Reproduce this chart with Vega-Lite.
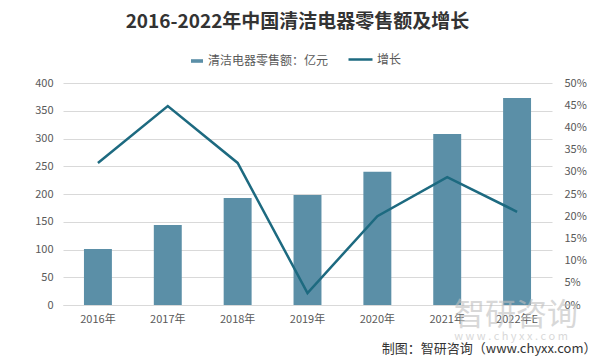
{
  "$schema": "https://vega.github.io/schema/vega-lite/v6.json",
  "width": 489,
  "height": 222,
  "autosize": "none",
  "padding": {"left": 63, "top": 83, "right": 48, "bottom": 55},
  "background": "white",
  "config": {
    "font": "Noto Sans CJK SC",
    "view": {"stroke": null},
    "axis": {"labelFont": "Noto Sans CJK SC", "labelColor": "#595959", "labelFontSize": 11}
  },
  "title": {
    "text": "2016-2022年中国清洁电器零售额及增长",
    "fontSize": 19,
    "fontWeight": "bold",
    "color": "#333333",
    "anchor": "middle",
    "frame": "group",
    "offset": 14,
    "dx": -10
  },
  "data": {
    "values": [
      {"year": "2016年", "sales": 101, "growth": 0.32},
      {"year": "2017年", "sales": 144, "growth": 0.448},
      {"year": "2018年", "sales": 193, "growth": 0.32},
      {"year": "2019年", "sales": 198, "growth": 0.027},
      {"year": "2020年", "sales": 240, "growth": 0.2},
      {"year": "2021年", "sales": 308, "growth": 0.288},
      {"year": "2022年E", "sales": 373, "growth": 0.21}
    ]
  },
  "encoding": {
    "x": {
      "field": "year",
      "type": "nominal",
      "sort": null,
      "scale": {"paddingInner": 0.6, "paddingOuter": 0.3},
      "axis": {
        "labelAngle": 0,
        "ticks": false,
        "domainColor": "#d9d9d9",
        "labelPadding": 8,
        "title": "制图：智研咨询（www.chyxx.com）",
        "titleFontSize": 13,
        "titleFontWeight": "normal",
        "titleColor": "#333333",
        "titleAnchor": "end",
        "titleAlign": "right",
        "titleX": 533,
        "titleY": 43,
        "titleBaseline": "middle"
      }
    }
  },
  "layer": [
    {
      "mark": {"type": "bar", "color": "#5b8fa7"},
      "encoding": {
        "y": {
          "field": "sales",
          "type": "quantitative",
          "scale": {"domain": [0, 400]},
          "axis": {
            "title": null,
            "values": [0, 50, 100, 150, 200, 250, 300, 350, 400],
            "domain": false,
            "ticks": false,
            "gridColor": "#d9d9d9",
            "labelPadding": 10
          }
        },
        "color": {
          "datum": "清洁电器零售额：亿元",
          "type": "nominal",
          "scale": {"range": ["#5b8fa7"]},
          "legend": {
            "title": null,
            "orient": "none",
            "legendX": 127,
            "legendY": -29,
            "symbolType": "M-1,-0.3H1V0.3H-1Z",
            "symbolSize": 144,
            "symbolOpacity": 1,
            "labelFontSize": 12,
            "labelColor": "#595959",
            "labelOffset": 4
          }
        }
      }
    },
    {
      "mark": {"type": "line", "strokeWidth": 2.5, "color": "#1d6a80"},
      "encoding": {
        "y": {
          "field": "growth",
          "type": "quantitative",
          "scale": {"domain": [0, 0.5]},
          "axis": {
            "title": null,
            "orient": "right",
            "format": ".0%",
            "values": [0, 0.05, 0.1, 0.15, 0.2, 0.25, 0.3, 0.35, 0.4, 0.45, 0.5],
            "grid": false,
            "domain": false,
            "ticks": false,
            "labelPadding": 12
          }
        },
        "color": {
          "datum": "增长",
          "type": "nominal",
          "scale": {"range": ["#1d6a80"]},
          "legend": {
            "title": null,
            "orient": "none",
            "legendX": 284,
            "legendY": -37,
            "symbolType": "stroke",
            "symbolSize": 576,
            "symbolStrokeWidth": 2.5,
            "labelFontSize": 12,
            "labelColor": "#595959",
            "labelOffset": 3
          }
        }
      }
    },
    {
      "data": {"values": [{"label": "智研咨询", "site": "w w w . c h y x x . c o m"}]},
      "layer": [
        {
          "mark": {"type": "text", "fontSize": 31, "color": "#bfbfbf", "opacity": 0.6, "dy": 11, "dx": -1, "clip": false},
          "encoding": {
            "x": {"datum": "2022年E"},
            "y": {"datum": 0, "scale": {"domain": [0, 400]}, "axis": null},
            "text": {"field": "label"}
          }
        },
        {
          "mark": {"type": "text", "fontSize": 11, "color": "#bfbfbf", "opacity": 0.6, "dy": 32, "dx": -6, "clip": false},
          "encoding": {
            "x": {"datum": "2022年E"},
            "y": {"datum": 0, "scale": {"domain": [0, 400]}, "axis": null},
            "text": {"field": "site"}
          }
        }
      ]
    }
  ],
  "resolve": {"scale": {"y": "independent", "color": "independent"}}
}
